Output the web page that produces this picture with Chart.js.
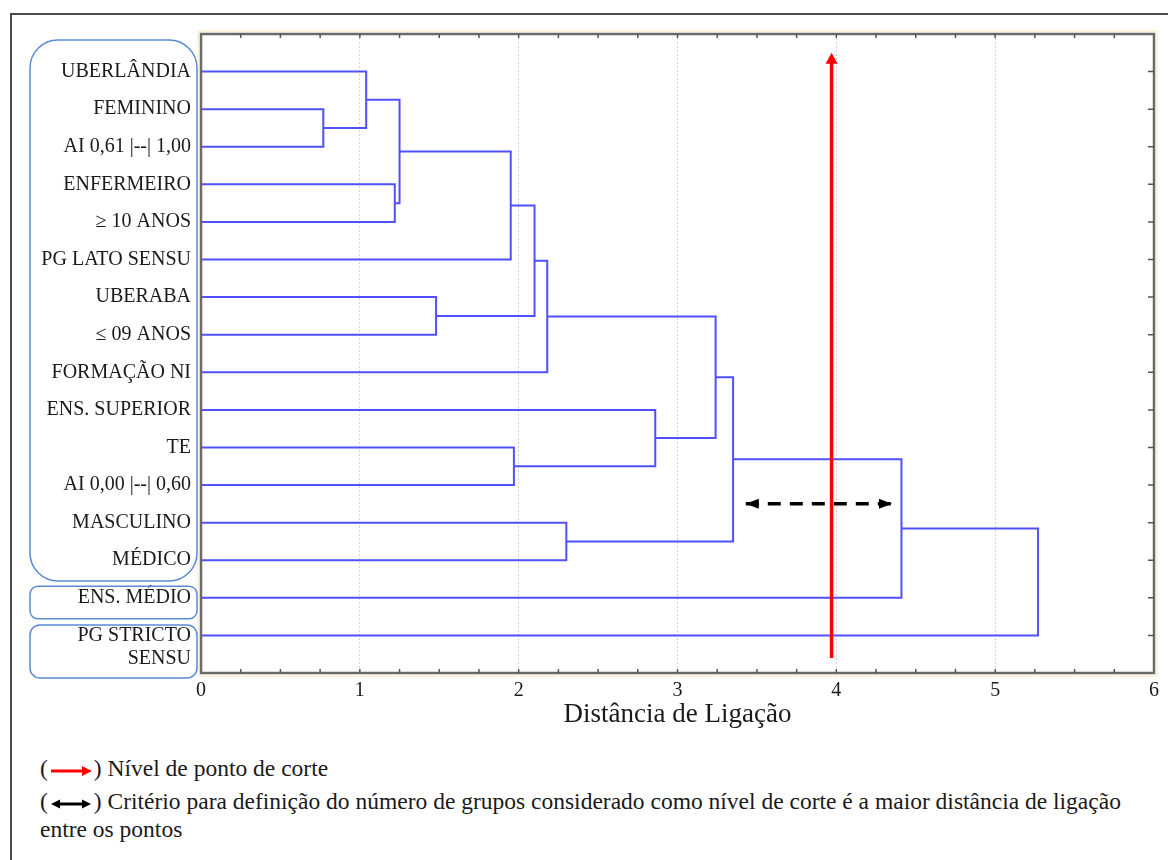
<!DOCTYPE html>
<html lang="pt">
<head>
<meta charset="utf-8">
<title>Dendrograma – Distância de Ligação</title>
<script src="https://cdn.jsdelivr.net/npm/chart.js@4.4.0/dist/chart.umd.min.js"></script>
<style>
  html, body { margin: 0; padding: 0; background: #fff; overflow: hidden; }
  body { width: 1168px; height: 860px; position: relative; font-family: "Liberation Serif", "Times New Roman", serif; color: #1a1a1a; }
  #frame { position: absolute; left: 10px; top: 13px; width: 1200px; height: 900px; border: 2px solid #4a4a4a; box-sizing: border-box; }
  #wrap  { position: absolute; left: 0; top: 0; width: 1168px; height: 740px; }
  .note  { position: absolute; left: 40px; font-size: 23.5px; line-height: 28px; white-space: nowrap; }
  .note svg { vertical-align: -1px; }
</style>
</head>
<body>
<div id="frame"></div>
<div id="wrap"><canvas id="dendro"></canvas></div>

<div class="note" style="top:754px;">(<svg width="46" height="12" viewBox="0 0 46 12"><line x1="3" y1="6" x2="36" y2="6" stroke="#ff0000" stroke-width="3"/><polygon points="34,1 44,6 34,11" fill="#ff0000"/></svg>) Nível de ponto de corte</div>
<div class="note" style="top:787px;">(<svg width="46" height="12" viewBox="0 0 46 12"><polygon points="3,6 12,1.5 12,10.5" fill="#000"/><line x1="11" y1="6" x2="35" y2="6" stroke="#000" stroke-width="3"/><polygon points="43,6 34,1.5 34,10.5" fill="#000"/></svg>) Critério para definição do número de grupos considerado como nível de corte é a maior distância de ligação<br>entre os pontos</div>

<script>
// ============================================================
// Dendrograma — variáveis agrupadas por distância de ligação
// ============================================================

// Folhas, de cima para baixo
const leafLabels = [
  'UBERLÂNDIA', 'FEMININO', 'AI 0,61 |--| 1,00', 'ENFERMEIRO', '≥ 10 ANOS',
  'PG LATO SENSU', 'UBERABA', '≤ 09 ANOS', 'FORMAÇÃO NI', 'ENS. SUPERIOR',
  'TE', 'AI 0,00 |--| 0,60', 'MASCULINO', 'MÉDICO', 'ENS. MÉDIO', 'PG STRICTO SENSU'
];

// Fusões: nós 0..15 são folhas, a fusão k cria o nó 16 + k
const mergeLeft  = [1, 0, 3, 17, 19, 6, 20, 22, 10, 9, 23, 12, 26, 28, 29];
const mergeRight = [2, 16, 4, 18, 5, 7, 21, 8, 11, 24, 25, 13, 27, 14, 15];
const mergeDist  = [0.77, 1.04, 1.22, 1.25, 1.95, 1.48, 2.10, 2.18, 1.97, 2.86, 3.24, 2.30, 3.35, 4.41, 5.27];

const xTicks = [0, 1, 2, 3, 4, 5, 6];

// Ponto de corte (seta vermelha) e maior distância (seta tracejada)
const cutLevel = 3.97;
const cutSpan  = [16.6, 0.5];
const gapRange = [3.43, 4.35];
const gapRow   = 12.5;

const FONT  = 'Liberation Serif';
const BLUE  = '#5050ff';

// Posições dos nós
const nodeY = leafLabels.map((_, i) => i + 1);
const nodeH = leafLabels.map(() => 0);
mergeDist.forEach((d, k) => {
  nodeY.push((nodeY[mergeLeft[k]] + nodeY[mergeRight[k]]) / 2);
  nodeH.push(d);
});

const linkSets = mergeDist.map((d, k) => {
  const a = mergeLeft[k], b = mergeRight[k];
  return {
    data: [
      { x: nodeH[a], y: nodeY[a] },
      { x: d,        y: nodeY[a] },
      { x: d,        y: nodeY[b] },
      { x: nodeH[b], y: nodeY[b] }
    ],
    borderColor: BLUE, borderWidth: 2, showLine: true, pointRadius: 0, tension: 0
  };
});

const gapSet = {
  data: [{ x: gapRange[0], y: gapRow }, { x: gapRange[1], y: gapRow }],
  borderColor: '#000', borderWidth: 3.5, borderDash: [13, 9], showLine: true, pointRadius: 0
};

function tickLabel(v) {
  const name = leafLabels[v - 1] || '';
  if (name === 'PG STRICTO SENSU') return ['', 'PG STRICTO', 'SENSU'];
  return name;
}

function head(ctx, x, y, dx, dy, len, half, color) {
  ctx.fillStyle = color;
  ctx.beginPath();
  ctx.moveTo(x, y);
  ctx.lineTo(x - dx * len - dy * half, y - dy * len - dx * half);
  ctx.lineTo(x - dx * len + dy * half, y - dy * len + dx * half);
  ctx.closePath();
  ctx.fill();
}

// Moldura, marcas menores, caixas dos rótulos, linha de corte e pontas das setas
const dendroDeco = {
  id: 'dendroDeco',
  afterDatasetsDraw(chart) {
    const { ctx, chartArea: a, scales: { x, y } } = chart;
    ctx.save();

    const gy = y.getPixelForValue(gapRow);
    head(ctx, x.getPixelForValue(gapRange[0]), gy, -1, 0, 13, 5, '#000');
    head(ctx, x.getPixelForValue(gapRange[1]), gy, 1, 0, 13, 5, '#000');

    // linha de corte vermelha, por cima de tudo
    const cx = x.getPixelForValue(cutLevel);
    const tip = y.getPixelForValue(cutSpan[1]);
    ctx.strokeStyle = '#ff0000';
    ctx.lineWidth = 3.5;
    ctx.beginPath();
    ctx.moveTo(cx, y.getPixelForValue(cutSpan[0]));
    ctx.lineTo(cx, tip + 8);
    ctx.stroke();
    head(ctx, cx, tip, 0, -1, 11, 6, '#ff0000');

    // moldura
    ctx.strokeStyle = '#fbf3e0';
    ctx.lineWidth = 2;
    ctx.strokeRect(a.left - 3, a.top - 3, a.right - a.left + 6, a.bottom - a.top + 6);
    ctx.strokeStyle = '#6a6a6a';
    ctx.lineWidth = 2.5;
    ctx.strokeRect(a.left, a.top, a.right - a.left, a.bottom - a.top);

    // marcas menores
    ctx.strokeStyle = '#555';
    ctx.lineWidth = 1.5;
    ctx.beginPath();
    for (let v = 0.25; v < 6; v += 0.25) {
      const px = x.getPixelForValue(v);
      ctx.moveTo(px, a.top);    ctx.lineTo(px, a.top + 4);
      ctx.moveTo(px, a.bottom); ctx.lineTo(px, a.bottom - 4);
    }
    nodeY.slice(0, leafLabels.length).forEach(v => {
      const py = y.getPixelForValue(v);
      ctx.moveTo(a.right, py); ctx.lineTo(a.right - 6, py);
    });
    ctx.stroke();

    // caixas arredondadas em volta dos rótulos
    ctx.strokeStyle = '#5b8ad6';
    ctx.lineWidth = 1.5;
    const bx = a.left - 171, bw = 167;
    [[0.16, 14.55, 28], [14.69, 15.56, 8], [15.72, 17.13, 10]].forEach(([t, b, r]) => {
      const ty = y.getPixelForValue(t), by = y.getPixelForValue(b);
      ctx.beginPath();
      ctx.roundRect(bx, ty, bw, by - ty, r);
      ctx.stroke();
    });
    ctx.restore();
  }
};

new Chart(document.getElementById('dendro'), {
  type: 'scatter',
  data: { datasets: [gapSet, ...linkSets] },
  options: {
    responsive:          true,
    maintainAspectRatio: false,
    animation:           false,
    layout: { padding: { top: 34, right: 14, bottom: 7, left: 0 } },
    plugins: { legend: { display: false }, tooltip: { enabled: false } },
    scales: {
      x: {
        type: 'linear', min: 0, max: 6,
        afterFit: s => { s.height = 60; s.paddingLeft = 0; s.paddingRight = 0; },
        afterBuildTicks: s => { s.ticks = xTicks.map(v => ({ value: v })); },
        grid:   { color: '#d2d2d2', lineWidth: 1, drawTicks: false },
        border: { display: false, dash: [2, 2] },
        ticks:  { padding: 6, color: '#1a1a1a', font: { family: FONT, size: 20 } },
        title:  { display: true, text: 'Distância de Ligação', color: '#1a1a1a',
                  font: { family: FONT, size: 27 }, padding: { top: 0, bottom: 2 } }
      },
      y: {
        type: 'linear', min: 0, max: 17, reverse: true,
        afterFit: s => { s.width = 201; s.paddingTop = 0; s.paddingBottom = 0; },
        afterBuildTicks: s => { s.ticks = leafLabels.map((_, i) => ({ value: i + 1 })); },
        grid:   { display: false, drawTicks: false },
        border: { display: false },
        ticks:  { padding: 10, autoSkip: false, color: '#1a1a1a',
                  font: { family: FONT, size: 20, lineHeight: 1.15 },
                  callback: v => tickLabel(v) }
      }
    }
  },
  plugins: [dendroDeco]
});
</script>
</body>
</html>
